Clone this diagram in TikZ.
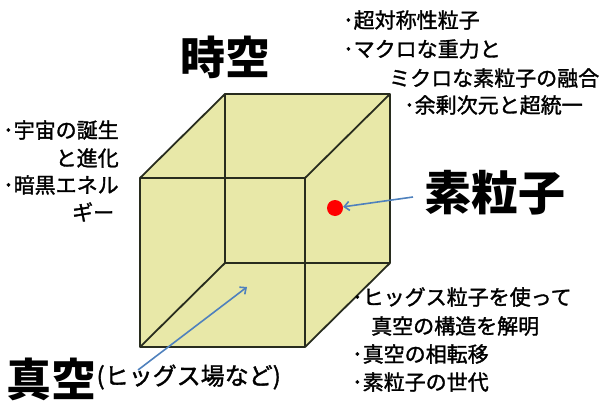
\documentclass[tikz,border=0pt]{standalone}
\usepackage{fontspec}
\setmainfont{Noto Sans CJK JP}
\newfontfamily\notefont{Noto Sans CJK JP}[FakeBold=1.5]
\usetikzlibrary{arrows.meta}
\definecolor{cubefill}{RGB}{232,232,168}
\definecolor{cubeedge}{RGB}{40,44,30}
\definecolor{arrowblue}{RGB}{79,129,189}
\begin{document}
\begin{tikzpicture}[x=1pt,y=-1pt,
  edge/.style={draw=cubeedge,line width=1.8pt,line join=round},
  face/.style={fill=cubefill},
  note/.style={inner sep=0pt,font=\notefont\fontsize{21}{23}\selectfont},
  big/.style={inner sep=0pt,font=\fontsize{45}{48}\selectfont\bfseries},
  ptr/.style={draw=arrowblue,line width=1.6pt,-{Straight Barb[length=5pt,width=9pt]}}]
\useasboundingbox (0,0) rectangle (609,401);
% cube corners
\coordinate (ftl) at (140,178);
\coordinate (ftr) at (305,178);
\coordinate (fbl) at (140,347);
\coordinate (fbr) at (305,347);
\coordinate (btl) at (225,94);
\coordinate (btr) at (390,94);
\coordinate (bbl) at (225,263);
\coordinate (bbr) at (390,263);
% faces
\fill[face] (ftl) -- (btl) -- (btr) -- (bbr) -- (fbr) -- (fbl) -- cycle;
% edges
\draw[edge] (btl) -- (btr) -- (bbr) -- (bbl) -- cycle;
\draw[edge] (ftl) -- (ftr) -- (fbr) -- (fbl) -- cycle;
\draw[edge] (ftl) -- (btl);
\draw[edge] (ftr) -- (btr);
\draw[edge] (fbr) -- (bbr);
\draw[edge] (fbl) -- (bbl);
% red dot
\node[circle,fill=red,inner sep=0pt,minimum size=16pt] (dot) at (335,208) {};
% big labels
\node[big] (jiku) at (225,57) {時空};
\node[big,font=\fontsize{47}{50}\selectfont\bfseries] (soryushi) at (495,193) {素粒子};
\node[big,anchor=west] (shinku) at (6,379) {真空};
\node[inner sep=0pt,anchor=west,font=\notefont\fontsize{24}{26}\selectfont] (higgsba) at ([yshift=2pt]shinku.east) {(ヒッグス場など)};
% arrows
\coordinate (a1s) at (413,197);
\coordinate (a2s) at (138,370);
\coordinate (a2e) at (247,287);
\draw[ptr] (a1s) -- (dot);
\draw[ptr] (a2s) -- (a2e);
% left notes
\node[note,anchor=west] (l1) at (3,130) {･宇宙の誕生};
\node[note,anchor=east] (l2) at (l1.east |- 0,158) {と進化};
\node[note,anchor=west] (l3) at (3,185) {･暗黒エネル};
\node[note,anchor=west] (l4) at (72,212) {ギー};
% top right notes
\node[note,anchor=west] (t1) at (343,20) {･超対称性粒子};
\node[note,anchor=west] (t2) at (343,49) {･マクロな重力と};
\node[note,anchor=west] (t3) at (389,78) {ミクロな素粒子の融合};
\node[note,anchor=west] (t4) at (404,105) {･余剰次元と超統一};
% bottom right notes
\node[note,anchor=west] (b1) at (352,297) {･ヒッグス粒子を使って};
\node[note,anchor=west] (b2) at (371,326) {真空の構造を解明};
\node[note,anchor=west] (b3) at (352,354) {･真空の相転移};
\node[note,anchor=west] (b4) at (352,382) {･素粒子の世代};
\end{tikzpicture}
\end{document}
